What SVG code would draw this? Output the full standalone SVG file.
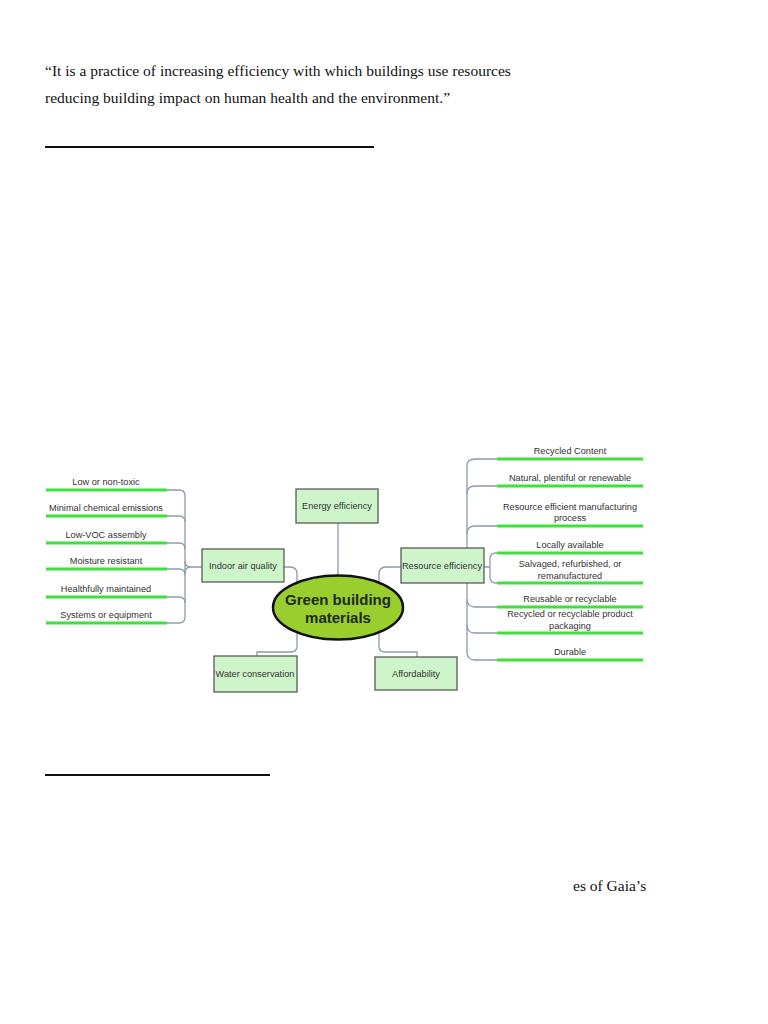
<svg xmlns="http://www.w3.org/2000/svg" width="768" height="1024" viewBox="0 0 768 1024">
<style>
.body{font-family:"Liberation Serif","Times New Roman",serif;font-size:15.5px;fill:#111}
.lbl{font-family:"Liberation Sans",Arial,sans-serif;font-size:9.2px;fill:#333;text-anchor:middle}
.box{fill:#cef5c9;stroke:#5a5a5a;stroke-width:1.3}
.conn{fill:none;stroke:#8d9bab;stroke-width:1.3}
.grn{stroke:#3fe03a;stroke-width:3.2;fill:none}
.rule{stroke:#111;stroke-width:2}
</style>
<rect width="768" height="1024" fill="#fff"/>
<text class="body" x="45" y="76">“It is a practice of increasing efficiency with which buildings use resources</text>
<text class="body" x="45" y="103">reducing building impact on human health and the environment.”</text>
<line class="rule" x1="45" y1="147" x2="374" y2="147"/>
<line class="rule" x1="45" y1="775" x2="270" y2="775"/>
<text class="body" x="573" y="891">es of Gaia’s</text>

<g id="connectors">
<path class="conn" d="M160 490 H179 Q185 490 185 496 V617"/>
<path class="conn" d="M160 516 H179 Q185 516 185 522"/>
<path class="conn" d="M160 543 H179 Q185 543 185 549"/>
<path class="conn" d="M160 569 H179 Q185 569 185 575"/>
<path class="conn" d="M160 597 H179 Q185 597 185 603"/>
<path class="conn" d="M160 623 H179 Q185 623 185 617"/>
<path class="conn" d="M185 561 Q185 567 191 567 H202 M185 573 Q185 567 191 567"/>
<path class="conn" d="M467 548 V466 Q467 459 475 459 H500"/>
<path class="conn" d="M467 494 Q467 486 475 486 H500"/>
<path class="conn" d="M467 534 Q467 526 475 526 H500"/>
<path class="conn" d="M467 583 V652 Q467 660 475 660 H500"/>
<path class="conn" d="M467 599 Q467 607 475 607 H500"/>
<path class="conn" d="M467 625 Q467 633 475 633 H500"/>
<path class="conn" d="M484 567 H490 M490 567 V559 Q490 553 496 553 H500 M490 567 V577 Q490 583 496 583 H500"/>
<path class="conn" d="M338 523 V575"/>
<path class="conn" d="M284 567 H290 Q297 567 297 574 V582"/>
<path class="conn" d="M401 567 H386 Q379 567 379 574 V582"/>
<path class="conn" d="M297 633 V646 Q297 652 291 652 H257 V656"/>
<path class="conn" d="M379 633 V646 Q379 652 385 652 H417 V657"/>
</g>

<g id="left-items">
<line class="grn" x1="46" y1="490" x2="167" y2="490"/><text class="lbl" x="106" y="485">Low or non-toxic</text>
<line class="grn" x1="46" y1="516" x2="167" y2="516"/><text class="lbl" x="106" y="511">Minimal chemical emissions</text>
<line class="grn" x1="46" y1="543" x2="167" y2="543"/><text class="lbl" x="106" y="538">Low-VOC assembly</text>
<line class="grn" x1="46" y1="569" x2="167" y2="569"/><text class="lbl" x="106" y="564">Moisture resistant</text>
<line class="grn" x1="46" y1="597" x2="167" y2="597"/><text class="lbl" x="106" y="592">Healthfully maintained</text>
<line class="grn" x1="46" y1="623" x2="167" y2="623"/><text class="lbl" x="106" y="618">Systems or equipment</text>
</g>

<g id="right-items">
<line class="grn" x1="497" y1="459" x2="643" y2="459"/><text class="lbl" x="570" y="454">Recycled Content</text>
<line class="grn" x1="497" y1="486" x2="643" y2="486"/><text class="lbl" x="570" y="481">Natural, plentiful or renewable</text>
<line class="grn" x1="497" y1="526" x2="643" y2="526"/><text class="lbl" x="570" y="510">Resource efficient manufacturing</text><text class="lbl" x="570" y="521">process</text>
<line class="grn" x1="497" y1="553" x2="643" y2="553"/><text class="lbl" x="570" y="548">Locally available</text>
<line class="grn" x1="497" y1="583" x2="643" y2="583"/><text class="lbl" x="570" y="567">Salvaged, refurbished, or</text><text class="lbl" x="570" y="579">remanufactured</text>
<line class="grn" x1="497" y1="607" x2="643" y2="607"/><text class="lbl" x="570" y="602">Reusable or recyclable</text>
<line class="grn" x1="497" y1="633" x2="643" y2="633"/><text class="lbl" x="570" y="617">Recycled or recyclable product</text><text class="lbl" x="570" y="629">packaging</text>
<line class="grn" x1="497" y1="660" x2="643" y2="660"/><text class="lbl" x="570" y="655">Durable</text>
</g>

<g id="energy-efficiency"><rect class="box" x="296" y="489" width="82" height="34"/><text class="lbl" x="337" y="509">Energy efficiency</text></g>
<g id="indoor-air-quality"><rect class="box" x="202" y="549" width="82" height="33"/><text class="lbl" x="243" y="569">Indoor air quality</text></g>
<g id="resource-efficiency"><rect class="box" x="401" y="548" width="83" height="35"/><text class="lbl" x="442" y="569">Resource efficiency</text></g>
<g id="water-conservation"><rect class="box" x="214" y="656" width="83" height="36"/><text class="lbl" x="255" y="677">Water conservation</text></g>
<g id="affordability"><rect class="box" x="375" y="657" width="82" height="33"/><text class="lbl" x="416" y="677">Affordability</text></g>
<g id="green-building-materials">
<ellipse cx="338" cy="607.5" rx="65" ry="32" fill="#9acd2e" stroke="#111" stroke-width="2.5"/>
<text x="338" y="605" font-family="'Liberation Sans',Arial,sans-serif" font-size="15" font-weight="bold" fill="#1c2a10" text-anchor="middle">Green building</text>
<text x="338" y="623" font-family="'Liberation Sans',Arial,sans-serif" font-size="15" font-weight="bold" fill="#1c2a10" text-anchor="middle">materials</text>
</g>
</svg>
